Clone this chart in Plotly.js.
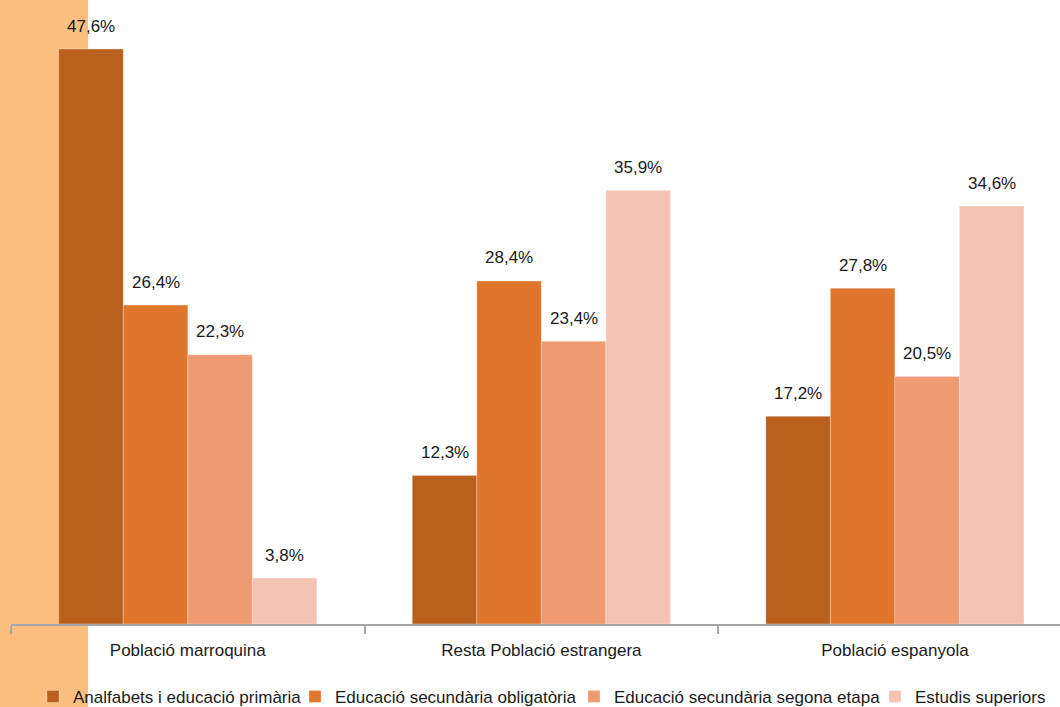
<!DOCTYPE html>
<html>
<head>
<meta charset="utf-8">
<script src="https://cdn.plot.ly/plotly-3.0.1.min.js"></script>
<style>html,body{margin:0;padding:0;background:#fff;}#chart{width:1060px;height:707px;}</style>
</head>
<body>
<div id="chart"></div>
<script>
const categories = ["Població marroquina", "Resta Població estrangera", "Població espanyola"];
const seriesNames = ["Analfabets i educació primària", "Educació secundària obligatòria", "Educació secundària segona etapa", "Estudis superiors"];
const analfabets = [47.6, 12.3, 17.2];
const obligatoria = [26.4, 28.4, 27.8];
const segonaEtapa = [22.3, 23.4, 20.5];
const superiors = [3.8, 35.9, 34.6];
const colors = ["#B9601F", "#E0762D", "#F09A72", "#F5C3B2"];

const seriesValues = [analfabets, obligatoria, segonaEtapa, superiors];
const fmt = v => v.toFixed(1).replace('.', ',') + '%';

const W = 1060, H = 707;
const margin = {l: 11, r: 0, t: 0, b: 83};
const plotW = W - margin.l - margin.r;
const plotH = H - margin.t - margin.b;
const xRange = [-0.5, 2.467];
const bargap = 0.27;
const pxPerCat = plotW / (xRange[1] - xRange[0]);
const barPx = pxPerCat * (1 - bargap) / seriesValues.length;
const legendWidths = [217, 234, 256, 130];

const traces = seriesValues.map((vals, i) => ({
  type: 'bar',
  name: seriesNames[i],
  x: categories,
  y: vals,
  legendwidth: legendWidths[i],
  marker: {color: colors[i], line: {color: 'rgba(255,255,255,0.45)', width: 0.6}},
  hoverinfo: 'x+y+name'
}));

const annotations = [];
seriesValues.forEach((vals, i) => {
  vals.forEach((v, j) => {
    annotations.push({
      x: categories[j], y: v, xref: 'x', yref: 'y',
      text: fmt(v), showarrow: false,
      xshift: (i - (seriesValues.length - 1) / 2) * barPx,
      yshift: 23, yanchor: 'middle', xanchor: 'center',
      font: {family: 'Liberation Sans, Arial, sans-serif', size: 17, color: '#1a1a1a'}
    });
  });
});

const layout = {
  width: W, height: H,
  margin: Object.assign({autoexpand: false}, margin),
  paper_bgcolor: '#ffffff',
  plot_bgcolor: 'rgba(0,0,0,0)',
  barmode: 'group',
  bargap: bargap,
  bargroupgap: 0,
  showlegend: true,
  font: {family: 'Liberation Sans, Arial, sans-serif', size: 17, color: '#1a1a1a'},
  xaxis: {
    type: 'category',
    range: xRange,
    showline: true, linecolor: '#A6A6A6', linewidth: 1.5,
    ticks: 'outside', tickson: 'boundaries', ticklen: 8, tickcolor: '#A6A6A6', tickwidth: 1.5,
    showgrid: false, zeroline: false,
    tickfont: {size: 17, color: '#1a1a1a'},
    ticklabelstandoff: 10,
    fixedrange: true
  },
  yaxis: {
    range: [0, 51.66],
    visible: false, showgrid: false, zeroline: false, fixedrange: true
  },
  legend: {
    orientation: 'h',
    x: 22 / plotW, xanchor: 'left',
    y: -0.088, yanchor: 'top',
    bgcolor: 'rgba(0,0,0,0)',
    font: {size: 17, color: '#1a1a1a'},
    itemwidth: 30,
    tracegroupgap: 0,
    traceorder: 'normal'
  },
  shapes: [{
    type: 'rect', xref: 'paper', yref: 'paper', layer: 'below',
    x0: -margin.l / plotW, x1: (88 - margin.l) / plotW,
    y0: -margin.b / plotH, y1: 1,
    fillcolor: '#FDBF80', line: {width: 0}
  }],
  annotations: annotations
};

Plotly.newPlot('chart', traces, layout, {displayModeBar: false, staticPlot: false});
</script>
</body>
</html>
